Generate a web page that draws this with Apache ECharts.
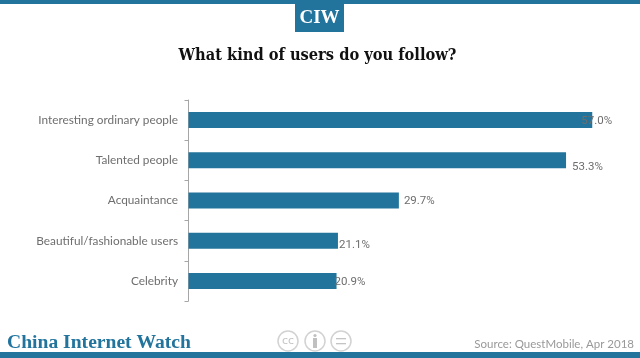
<!DOCTYPE html>
<html><head><meta charset="utf-8">
<style>html,body{margin:0;padding:0;background:#fff}#c{width:640px;height:358px}</style>
<script src="https://cdn.jsdelivr.net/npm/echarts@6/dist/echarts.min.js"></script>
</head><body><div id="c"></div>
<script>
const categories = ["Interesting ordinary people","Talented people","Acquaintance","Beautiful/fashionable users","Celebrity"];
const values = [57.0,53.3,29.7,21.1,20.9];
const labelOffsets = [[-11,1],[6,7],[5,1],[1,4],[-2,1]];
const BLUE = '#22749d';
const chart = echarts.init(document.getElementById('c'),null,{renderer:'canvas'});
chart.setOption({
  animation:false,
  grid:{left:188.5,top:100,width:425,height:201,containLabel:false},
  xAxis:{type:'value',min:0,max:60,show:false},
  yAxis:{type:'category',inverse:true,data:categories,
    axisLine:{lineStyle:{color:'#a6a6a6',width:1}},
    axisTick:{show:true,length:4,alignWithLabel:false,lineStyle:{color:'#a6a6a6'}},
    axisLabel:{color:'#6e6e6e',fontFamily:'Lato',fontSize:11.8,margin:10.5}},
  series:[{type:'bar',barWidth:16,
    data:values.map((v,i)=>({value:v,label:{offset:labelOffsets[i]}})),
    itemStyle:{color:BLUE},
    label:{show:true,position:'right',distance:0,color:'#6e6e6e',fontFamily:'Roboto',fontSize:11.5,
      formatter:p=>p.value.toFixed(1)+'%'}}],
  graphic:[
    {type:'rect',shape:{x:0,y:0,width:640,height:4},style:{fill:BLUE}},
    {type:'rect',shape:{x:295,y:0,width:49,height:32},style:{fill:BLUE}},
    {type:'text',x:319.5,y:18,style:{text:'CIW',fill:'#fff',font:'bold 19px "Liberation Serif"',align:'center',verticalAlign:'middle'}},
    {type:'text',x:317.5,y:56,style:{text:'What kind of users do you follow?',fill:'#111',font:'bold 16.3px "DejaVu Serif Condensed"',align:'center',verticalAlign:'middle'}},
    {type:'rect',shape:{x:0,y:352,width:640,height:6},style:{fill:BLUE}},
    {type:'text',x:7,y:343,style:{text:'China Internet Watch',fill:BLUE,font:'bold 19.6px "Liberation Serif"',align:'left',verticalAlign:'middle'}},
    {type:'text',x:634,y:344,style:{text:'Source: QuestMobile, Apr 2018',fill:'#999',font:'11.5px Lato',align:'right',verticalAlign:'middle'}},
    {type:'circle',shape:{cx:288,cy:341,r:10},style:{fill:'#fff',stroke:'#d2d2d2',lineWidth:1.5}},
    {type:'text',x:288,y:341,style:{text:'cc',fill:'#c4c4c4',font:'11px "DejaVu Sans"',align:'center',verticalAlign:'middle'}},
    {type:'circle',shape:{cx:315,cy:341,r:10},style:{fill:'#fff',stroke:'#d2d2d2',lineWidth:1.5}},
    {type:'circle',shape:{cx:315,cy:335.5,r:1.6},style:{fill:'#c0c0c0'}},
    {type:'rect',shape:{x:313,y:338,width:4,height:10},style:{fill:'#c0c0c0'}},
    {type:'circle',shape:{cx:341,cy:341,r:10},style:{fill:'#fff',stroke:'#d2d2d2',lineWidth:1.5}},
    {type:'rect',shape:{x:336,y:338,width:10,height:1.3},style:{fill:'#c4c4c4'}},
    {type:'rect',shape:{x:336,y:343,width:10,height:1.3},style:{fill:'#c4c4c4'}}
  ]
});
</script></body></html>
